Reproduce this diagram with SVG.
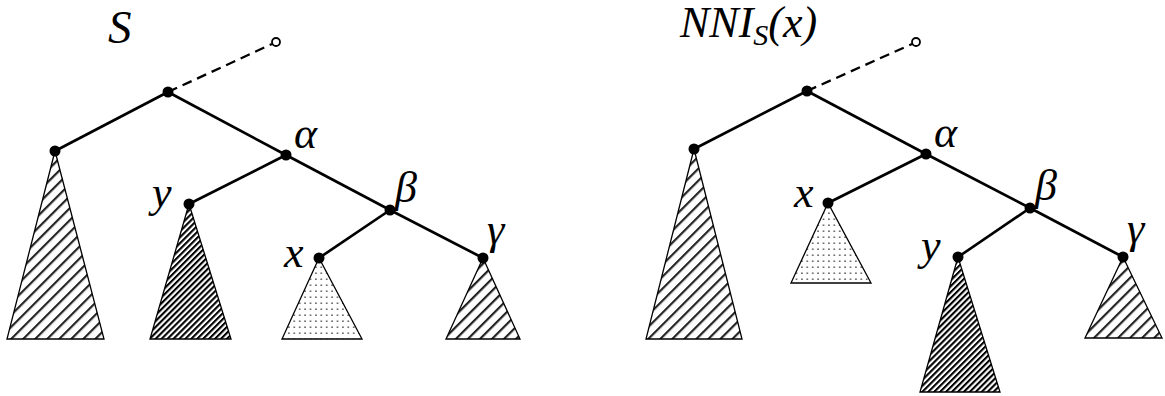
<svg xmlns="http://www.w3.org/2000/svg" width="1165" height="396" viewBox="0 0 1165 396">
<defs>
<pattern id="hatch" patternUnits="userSpaceOnUse" width="8.5" height="8.5" patternTransform="rotate(45)">
<rect width="8.5" height="8.5" fill="#fff"/>
<rect x="0" y="0" width="2.2" height="8.5" fill="#222"/>
</pattern>
<pattern id="dark" patternUnits="userSpaceOnUse" width="4.2" height="4.2" patternTransform="rotate(45)">
<rect width="4.2" height="4.2" fill="#fff"/>
<rect x="0" y="0" width="2.1" height="4.2" fill="#000"/>
</pattern>
<pattern id="dots" patternUnits="userSpaceOnUse" width="5.4" height="6">
<rect width="5.4" height="6" fill="#fff"/>
<rect x="2" y="2.5" width="1.4" height="1.4" fill="#333"/>
</pattern>
</defs>
<g font-family="Liberation Serif" font-style="italic" font-size="44" fill="#000">
<g id="title-left"><text x="108" y="43" font-size="47">S</text></g>
<g id="title-right"><text x="680" y="37">NNI<tspan font-size="30" dy="8">S</tspan><tspan dy="-8">(x)</tspan></text></g>
</g>

<g id="connectors" stroke="#000" stroke-width="2.7" fill="none">
<line stroke-width="2.3" stroke-dasharray="10 6" x1="168" y1="92" x2="272" y2="44"/>
<line x1="168" y1="92" x2="55" y2="151"/>
<line x1="168" y1="92" x2="286" y2="155"/>
<line x1="286" y1="155" x2="189" y2="204"/>
<line x1="286" y1="155" x2="390" y2="210"/>
<line x1="390" y1="210" x2="319" y2="258"/>
<line x1="390" y1="210" x2="483" y2="258"/>

<line stroke-width="2.3" stroke-dasharray="10 6" x1="807" y1="91" x2="912" y2="44"/>
<line x1="807" y1="91" x2="694" y2="149"/>
<line x1="807" y1="91" x2="926" y2="154"/>
<line x1="926" y1="154" x2="828" y2="203"/>
<line x1="926" y1="154" x2="1030" y2="208"/>
<line x1="1030" y1="208" x2="958" y2="257"/>
<line x1="1030" y1="208" x2="1123" y2="257"/>
</g>

<g font-family="Liberation Serif" font-style="italic" font-size="44" stroke="#000" stroke-width="1.3">
<g id="left-root"><circle fill="#fff" stroke-width="1.8" cx="276" cy="42" r="4"/><circle stroke="none" cx="168" cy="92" r="5.5"/></g>
<g id="left-a"><polygon fill="url(#hatch)" points="55,151 7,339 104,339"/><circle stroke="none" cx="55" cy="151" r="5.5"/></g>
<g id="left-alpha"><circle stroke="none" cx="286" cy="155" r="5.5"/><text stroke="none" x="294" y="148">α</text></g>
<g id="left-y"><polygon fill="url(#dark)" points="189,204 150,339 231,339"/><circle stroke="none" cx="189" cy="204" r="5.5"/><text stroke="none" x="152" y="207">y</text></g>
<g id="left-beta"><circle stroke="none" cx="390" cy="210" r="5.5"/><text stroke="none" x="395" y="202">β</text></g>
<g id="left-x"><polygon fill="url(#dots)" points="319,258 282,339 362,339"/><circle stroke="none" cx="319" cy="258" r="5.5"/><text stroke="none" x="284" y="267">x</text></g>
<g id="left-gamma"><polygon fill="url(#hatch)" points="483,258 446,339 520,339"/><circle stroke="none" cx="483" cy="258" r="5.5"/><text stroke="none" x="487" y="244">γ</text></g>

<g id="right-root"><circle fill="#fff" stroke-width="1.8" cx="916" cy="42" r="4"/><circle stroke="none" cx="807" cy="91" r="5.5"/></g>
<g id="right-a"><polygon fill="url(#hatch)" points="694,149 646,339 742,339"/><circle stroke="none" cx="694" cy="149" r="5.5"/></g>
<g id="right-alpha"><circle stroke="none" cx="926" cy="154" r="5.5"/><text stroke="none" x="934" y="147">α</text></g>
<g id="right-x"><polygon fill="url(#dots)" points="828,203 791,283 871,283"/><circle stroke="none" cx="828" cy="203" r="5.5"/><text stroke="none" x="794" y="207">x</text></g>
<g id="right-beta"><circle stroke="none" cx="1030" cy="208" r="5.5"/><text stroke="none" x="1035" y="200">β</text></g>
<g id="right-y"><polygon fill="url(#dark)" points="958,257 920,392 1000,392"/><circle stroke="none" cx="958" cy="257" r="5.5"/><text stroke="none" x="921" y="260">y</text></g>
<g id="right-gamma"><polygon fill="url(#hatch)" points="1123,257 1085,338 1162,338"/><circle stroke="none" cx="1123" cy="257" r="5.5"/><text stroke="none" x="1127" y="243">γ</text></g>
</g>
</svg>
